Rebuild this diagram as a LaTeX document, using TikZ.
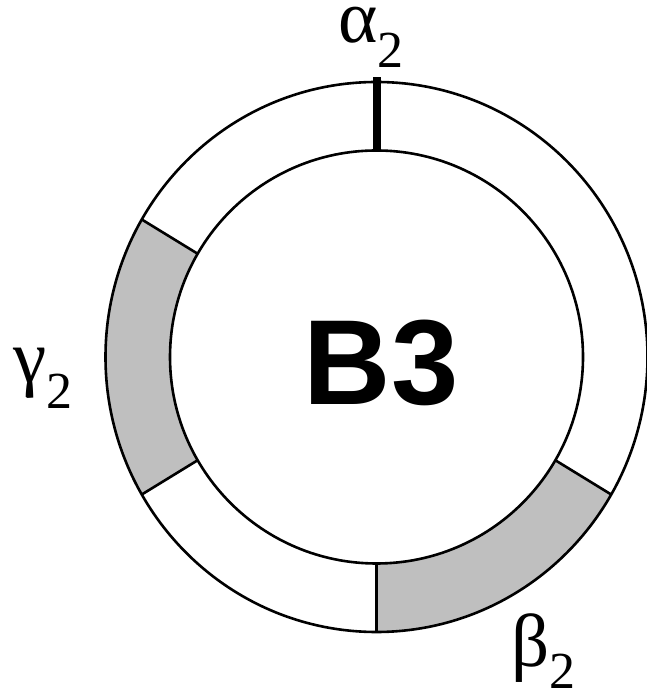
\documentclass[tikz,border=0pt]{standalone}
\usepackage{fontspec}
\setmainfont{Liberation Serif}
\newfontfamily\hvfont{Liberation Sans}
\definecolor{segGray}{RGB}{191,191,191}
\begin{document}
\begin{tikzpicture}[x=1pt,y=1pt,
  ring/.style={line width=2.6pt},
  divider/.style={line width=2.6pt},
  ticker/.style={line width=8pt},
  greek/.style={inner sep=0pt, anchor=base west, font=\fontsize{75}{75}\selectfont},
  subnum/.style={font=\fontsize{52}{52}\selectfont},
  title/.style={inner sep=0pt, anchor=base, font=\hvfont\bfseries\fontsize{121}{121}\selectfont}]
\useasboundingbox (0,0) rectangle (647,698);
\coordinate (c) at (376.5,341);
% gray segments
\fill[segGray] ([shift={(150:271 and 275)}]c) arc[start angle=150,end angle=210,x radius=271,y radius=275]
  -- ([shift={(210:206.5)}]c) arc[start angle=210,end angle=150,radius=206.5] -- cycle;
\fill[segGray] ([shift={(270:271 and 275)}]c) arc[start angle=270,end angle=330,x radius=271,y radius=275]
  -- ([shift={(330:206.5)}]c) arc[start angle=330,end angle=270,radius=206.5] -- cycle;
% rings
\draw[ring] (c) ellipse[x radius=271, y radius=275];
\draw[ring] (c) circle[radius=206.5];
% dividers
\foreach \a in {150,210,270,330}
  \draw[divider] ([shift={(\a:206.5)}]c) -- ([shift={(\a:271 and 275)}]c);
% alpha tick
\draw[ticker] ([shift={(90:206.5)}]c) -- ([shift={(90:280)}]c);
% labels
\node[title] (b3) at (381,293) {B3};
\node[greek] (alpha) at (338,655) {α\raisebox{-25pt}{\fontsize{52}{52}\selectfont 2}};
\node[greek] (gamma) at (13,315) {γ\raisebox{-26pt}{\fontsize{52}{52}\selectfont 2}};
\node[greek] (beta) at (511,31) {β\raisebox{-22pt}{\fontsize{52}{52}\selectfont 2}};
\end{tikzpicture}
\end{document}
